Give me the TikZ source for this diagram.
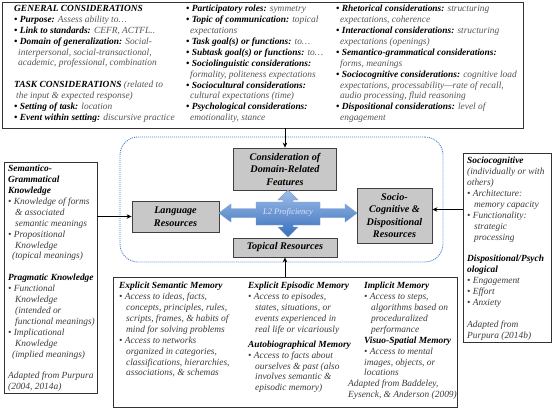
\documentclass[tikz,border=0pt]{standalone}
\usepackage{fontspec}
\setmainfont{Liberation Serif}
\usetikzlibrary{arrows.meta}
\definecolor{valc}{RGB}{85,85,85}
\definecolor{itemc}{RGB}{60,60,60}
\definecolor{framec}{RGB}{70,130,205}
\definecolor{boxfill}{RGB}{200,200,200}
\definecolor{arrtop}{RGB}{160,190,232}
\definecolor{arrbot}{RGB}{55,110,188}
\definecolor{arredge}{RGB}{115,155,212}
\newcommand{\hd}[1]{\textbf{#1}}
\newcommand{\vl}[1]{{\color{valc}#1}}
\newcommand{\itm}[1]{{\color{itemc}#1}}
\newcommand{\ci}{\hspace*{4pt}}
\newcommand{\cj}{\hspace*{7pt}}
\begin{document}
\begin{tikzpicture}[x=1pt,y=-1pt,
  txt/.style={inner sep=0pt, anchor=north west, align=left, font=\fontsize{9.4}{10.9}\selectfont\itshape},
  panel/.style={draw=black!80, line width=0.8pt, inner sep=0pt},
  graybox/.style={draw=black!75, fill=boxfill, line width=0.8pt, align=center, inner sep=1pt, font=\fontsize{10.2}{12.5}\selectfont\bfseries\itshape},
  link/.style={-{Stealth[length=5pt,width=4.5pt]}, line width=0.7pt}]
\useasboundingbox (0,0) rectangle (553,413);
\fill[white] (0,0) rectangle (553,413);

% outer panels
\node[panel, minimum width=521pt, minimum height=126pt] (topbox) at (262.5,65) {};
\node[panel, minimum width=93pt, minimum height=231pt] (leftbox) at (50.5,277.5) {};
\node[panel, minimum width=88pt, minimum height=189pt] (rightbox) at (507,247.5) {};
\node[panel, minimum width=344pt, minimum height=130pt] (botbox) at (285,342) {};

% dotted frame
\node[draw=framec, line width=0.9pt, dash pattern=on 1pt off 1pt, rounded corners=18pt,
      minimum width=323pt, minimum height=125pt, inner sep=0pt] (frame) at (281.5,199.5) {};

% central boxes
\node[graybox, minimum width=103pt, minimum height=42pt] (cons) at (285,169) {Consideration of\\Domain-Related\\Features};
\node[graybox, minimum width=87pt, minimum height=31pt] (lang) at (175.5,216.5) {Language\\Resources};
\node[graybox, minimum width=75pt, minimum height=55pt] (socio) at (394.5,215.5) {Socio-\\Cognitive \&\\Dispositional\\Resources};
\node[graybox, minimum width=104pt, minimum height=19pt] (topical) at (285,247.5) {Topical Resources};

% L2 proficiency four-way arrow
\path[top color=arrtop, bottom color=arrbot, draw=arredge, line width=0.4pt]
 (219,213) -- (231,204) -- (231,208.5) -- (256,208.5) -- (256,202) -- (283,202) -- (283,200)
 -- (278,200) -- (288,190) -- (298,200) -- (293,200) -- (293,202) -- (320,202) -- (320,208.5)
 -- (345,208.5) -- (345,204) -- (357,213) -- (345,222) -- (345,217.5) -- (320,217.5)
 -- (320,225) -- (293,225) -- (293,227) -- (298,227) -- (288,237) -- (278,227) -- (283,227)
 -- (283,225) -- (256,225) -- (256,217.5) -- (231,217.5) -- (231,222) -- cycle;
\node[font=\fontsize{8.5}{10}\selectfont\itshape, text=white!88!blue, inner sep=0pt] (l2) at (288,212) {L2 Proficiency};

% connectors
\draw[link] (topbox.south -| cons.north) -- (cons.north);
\draw[link] (leftbox.east |- lang.west) -- (lang.west);
\draw[link] ([yshift=6pt]rightbox.west |- socio.east) -- ([yshift=6pt]socio.east);
\draw[link] (botbox.north -| topical.south) -- (topical.south);

% top box text
\node[txt] (tc1) at (14,5) {%
\hd{GENERAL CONSIDERATIONS}\\
\hd{• Purpose:} \vl{Assess ability to…}\\
\hd{• Link to standards:} \vl{CEFR, ACTFL..}\\
\hd{• Domain of generalization:} \vl{Social-}\\
\ci\vl{interpersonal, social-transactional,}\\
\ci\vl{academic, professional, combination}\\
\mbox{}\\
\hd{TASK CONSIDERATIONS} \vl{(related to}\\
\hspace*{2pt}\vl{the input \& expected response)}\\
\hd{• Setting of task:} \vl{location}\\
\hd{• Event within setting:} \vl{discursive practice}};

\node[txt] (tc2) at (186,5) {%
\hd{• Participatory roles:} \vl{symmetry}\\
\hd{• Topic of communication:} \vl{topical}\\
\ci\vl{expectations}\\
\hd{• Task goal(s) or functions:} \vl{to…}\\
\hd{• Subtask goal(s) or functions:} \vl{to…}\\
\hd{• Sociolinguistic considerations:}\\
\ci\vl{formality, politeness expectations}\\
\hd{• Sociocultural considerations:}\\
\ci\vl{cultural expectations (time)}\\
\hd{• Psychological considerations:}\\
\ci\vl{emotionality, stance}};

\node[txt] (tc3) at (336,5) {%
\hd{• Rhetorical considerations:} \vl{structuring}\\
\ci\vl{expectations, coherence}\\
\hd{• Interactional considerations:} \vl{structuring}\\
\ci\vl{expectations (openings)}\\
\hd{• Semantico-grammatical considerations:}\\
\ci\vl{forms, meanings}\\
\hd{• Sociocognitive considerations:} \vl{cognitive load}\\
\ci\vl{expectations, processability—rate of recall,}\\
\ci\vl{audio processing, fluid reasoning}\\
\hd{• Dispositional considerations:} \vl{level of}\\
\ci\vl{engagement}};

% left box text
\node[txt] (lt) at (8,165) {%
\hd{Semantico-}\\
\hd{Grammatical}\\
\hd{Knowledge}\\
\itm{• Knowledge of forms}\\
\cj\itm{\& associated}\\
\cj\itm{semantic meanings}\\
\itm{• Propositional}\\
\cj\itm{Knowledge}\\
\ci\itm{(topical meanings)}\\
\mbox{}\\
\hd{Pragmatic Knowledge}\\
\itm{• Functional}\\
\cj\itm{Knowledge}\\
\cj\itm{(intended or}\\
\cj\itm{functional meanings)}\\
\itm{• Implicational}\\
\cj\itm{Knowledge}\\
\ci\itm{(implied meanings)}\\
\mbox{}\\
\itm{Adapted from Purpura}\\
\itm{(2004, 2014a)}};

% right box text
\node[txt] (rt) at (467,157) {%
\hd{Sociocognitive}\\
\itm{(individually or with}\\
\itm{others)}\\
\itm{• Architecture:}\\
\cj\itm{memory capacity}\\
\itm{• Functionality:}\\
\cj\itm{strategic}\\
\cj\itm{processing}\\
\mbox{}\\
\hd{Dispositional/Psych}\\
\hd{ological}\\
\itm{• Engagement}\\
\itm{• Effort}\\
\itm{• Anxiety}\\
\mbox{}\\
\itm{Adapted from}\\
\itm{Purpura (2014b)}};

% bottom box text
\node[txt] (ba) at (119,282) {%
\hd{Explicit Semantic Memory}\\
\itm{• Access to ideas, facts,}\\
\cj\itm{concepts, principles, rules,}\\
\cj\itm{scripts, frames, \& habits of}\\
\cj\itm{mind for solving problems}\\
\itm{• Access to networks}\\
\cj\itm{organized in categories,}\\
\cj\itm{classifications, hierarchies,}\\
\cj\itm{associations, \& schemas}};

\node[txt] (bb) at (248,282) {%
\hd{Explicit Episodic Memory}\\
\itm{• Access to episodes,}\\
\cj\itm{states, situations, or}\\
\cj\itm{events experienced in}\\
\cj\itm{real life or vicariously}\\[4pt]
\hd{Autobiographical Memory}\\
\itm{• Access to facts about}\\
\cj\itm{ourselves \& past (also}\\
\cj\itm{involves semantic \&}\\
\cj\itm{episodic memory)}};

\node[txt] (bc) at (364,282) {%
\hd{Implicit Memory}\\
\itm{• Access to steps,}\\
\cj\itm{algorithms based on}\\
\cj\itm{proceduralized}\\
\cj\itm{performance}\\
\hd{Visuo-Spatial Memory}\\
\itm{• Access to mental}\\
\itm{images, objects, or}\\
\itm{locations}\\
\hspace*{-16pt}\itm{Adapted from Baddeley,}\\
\hspace*{-16pt}\itm{Eysenck, \& Anderson (2009)}};
\end{tikzpicture}
\end{document}
